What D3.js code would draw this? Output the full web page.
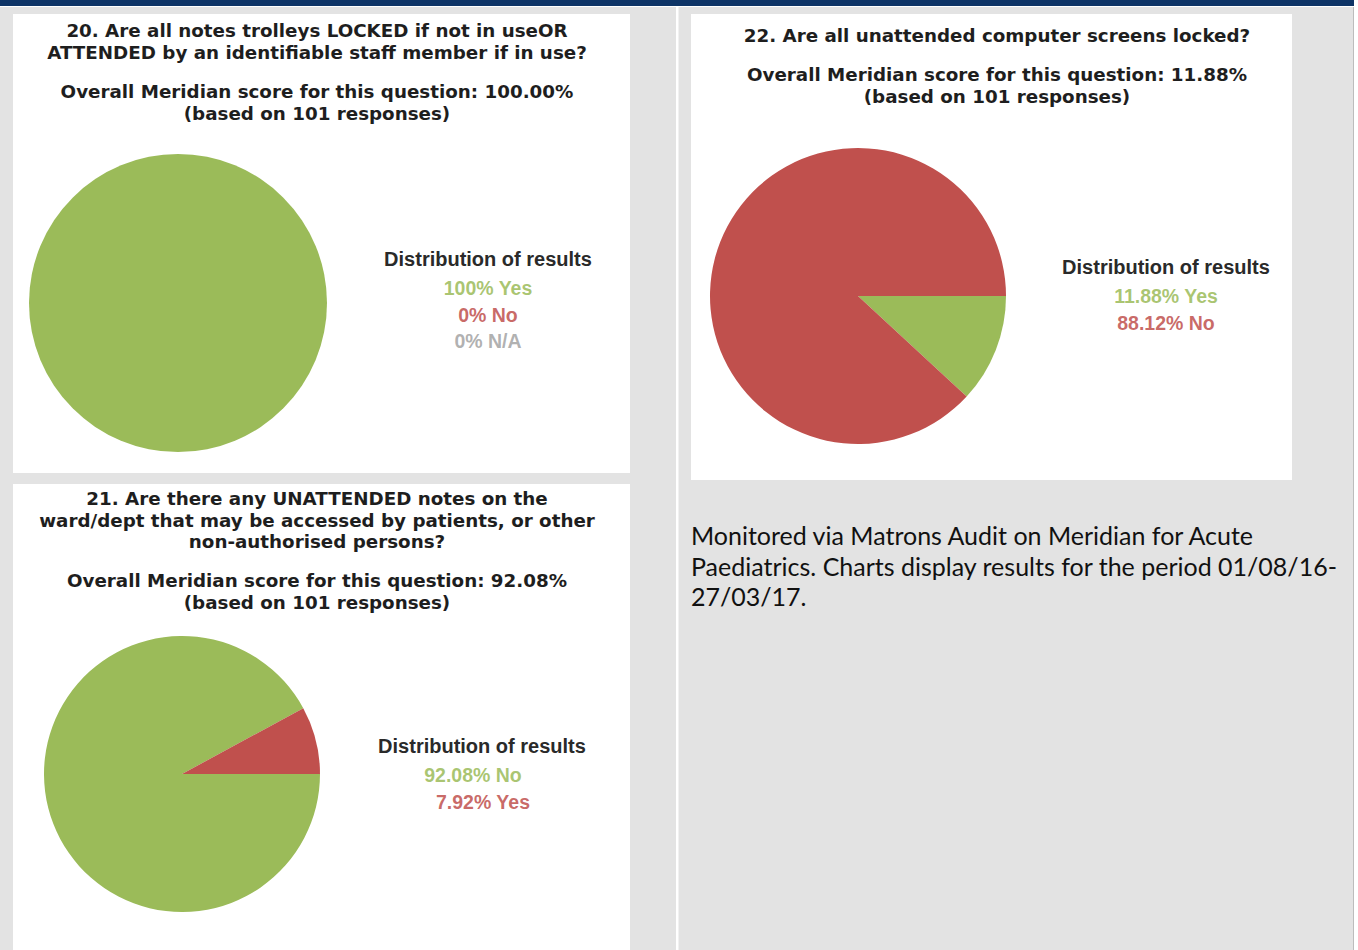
<!DOCTYPE html>
<html>
<head>
<meta charset="utf-8">
<script src="https://cdn.jsdelivr.net/npm/d3@7"></script>
<style>
  html, body { margin: 0; padding: 0; background: #e3e3e3; }
  svg { display: block; }
  .title { font-family: "DejaVu Sans", Verdana, sans-serif; font-weight: bold; fill: #1e1e1e; }
  .legend { font-family: "Liberation Sans", Arial, sans-serif; font-weight: bold; }
  .note { font-family: Lato, "Open Sans", sans-serif; fill: #111; }
</style>
</head>
<body>
<script>
// Question 20: notes trolleys locked / attended
const q20Title = ["20. Are all notes trolleys LOCKED if not in useOR",
                  "ATTENDED by an identifiable staff member if in use?"];
const q20Score = ["Overall Meridian score for this question: 100.00%",
                  "(based on 101 responses)"];
const q20Labels = ["Yes", "No", "N/A"];
const q20Values = [100, 0, 0];

// Question 22: unattended computer screens locked
const q22Title = ["22. Are all unattended computer screens locked?"];
const q22Score = ["Overall Meridian score for this question: 11.88%",
                  "(based on 101 responses)"];
const q22Labels = ["Yes", "No"];
const q22Values = [11.88, 88.12];

// Question 21: unattended notes accessible to others
const q21Title = ["21. Are there any UNATTENDED notes on the",
                  "ward/dept that may be accessed by patients, or other",
                  "non-authorised persons?"];
const q21Score = ["Overall Meridian score for this question: 92.08%",
                  "(based on 101 responses)"];
const q21Labels = ["No", "Yes"];
const q21Values = [92.08, 7.92];

const legendHeading = "Distribution of results";
const noteLines = ["Monitored via Matrons Audit on Meridian for Acute",
                   "Paediatrics. Charts display results for the period 01/08/16-",
                   "27/03/17."];

const W = 1358, H = 950;
const GREEN = "#9bbb59", RED = "#c0504d", GREY = "#a3a3a3";

const svg = d3.select("body").append("svg").attr("width", W).attr("height", H);

// page frame: navy header strip, grey table cells, white cell dividers
svg.append("rect").attr("width", W).attr("height", H).attr("fill", "#e3e3e3");
svg.append("rect").attr("width", 1354).attr("height", 6).attr("fill", "#0d3466");
svg.append("rect").attr("y", 6).attr("width", W).attr("height", 1).attr("fill", "#ffffff");
svg.append("rect").attr("x", 676).attr("y", 7).attr("width", 2.5).attr("height", H).attr("fill", "#ffffff");
svg.append("rect").attr("x", 1353).attr("y", 7).attr("width", 1).attr("height", H).attr("fill", "#bcbcbc");
svg.append("rect").attr("x", 1354).attr("y", 0).attr("width", 4).attr("height", H).attr("fill", "#ffffff");

function panel(cfg) {
  const g = svg.append("g");
  g.append("rect").attr("x", cfg.x).attr("y", cfg.y).attr("width", cfg.w).attr("height", cfg.h)
    .attr("fill", "#ffffff");

  // question heading and score
  const titleSize = 18.3;
  let ty = cfg.y + cfg.titleTop;
  cfg.title.forEach((t, i) => {
    g.append("text").attr("class", "title").attr("x", cfg.tx).attr("y", ty + i * 21.5)
      .attr("text-anchor", "middle").attr("font-size", titleSize).text(t);
  });
  ty += (cfg.title.length - 1) * 21.5 + 39;
  cfg.score.forEach((t, i) => {
    g.append("text").attr("class", "title").attr("x", cfg.tx).attr("y", ty + i * 22)
      .attr("text-anchor", "middle").attr("font-size", titleSize).text(t);
  });

  // pie, first slice starting at 3 o'clock and running clockwise
  const colour = d3.scaleOrdinal().domain(cfg.labels).range(cfg.colours);
  const pie = d3.pie().sort(null).value(d => d.v)
    .startAngle(Math.PI / 2).endAngle(Math.PI / 2 + 2 * Math.PI);
  const arc = d3.arc().innerRadius(0).outerRadius(cfg.r);
  const data = cfg.labels.map((l, i) => ({ l, v: cfg.values[i] }));
  g.append("g").attr("transform", `translate(${cfg.cx},${cfg.cy})`)
    .selectAll("path").data(pie(data).filter(d => d.data.v > 0)).join("path")
    .attr("d", arc).attr("fill", d => colour(d.data.l));

  // legend
  g.append("text").attr("class", "legend").attr("x", cfg.lx).attr("y", cfg.ly + 1)
    .attr("text-anchor", "middle").attr("font-size", 20).attr("fill", "#2a2a2a")
    .text(legendHeading);
  const fmt = v => (Number.isInteger(v) ? v.toString() : v.toFixed(2)) + "%";
  data.forEach((d, i) => {
    g.append("text").attr("class", "legend").attr("x", cfg.lx + (cfg.legendShift ? cfg.legendShift[i] : 0))
      .attr("y", cfg.ly + 30 + i * 26.5)
      .attr("text-anchor", "middle").attr("font-size", 19.5).attr("fill", colour(d.l))
      .attr("fill-opacity", 0.85)
      .text(`${fmt(d.v)} ${d.l}`);
  });
}

panel({ x: 13, y: 14, w: 617, h: 459, tx: 317, titleTop: 23, title: q20Title, score: q20Score,
        labels: q20Labels, values: q20Values, colours: [GREEN, RED, GREY],
        cx: 178, cy: 303, r: 149, lx: 488, ly: 265 });

panel({ x: 691, y: 14, w: 601, h: 466, tx: 997, titleTop: 28, title: q22Title, score: q22Score,
        labels: q22Labels, values: q22Values, colours: [GREEN, RED],
        cx: 858, cy: 296, r: 148, lx: 1166, ly: 273 });

panel({ x: 13, y: 484, w: 617, h: 466, tx: 317, titleTop: 21, title: q21Title, score: q21Score,
        labels: q21Labels, values: q21Values, colours: [GREEN, RED],
        cx: 182, cy: 774, r: 138, lx: 482, ly: 752, legendShift: [-9, 1] });

// explanatory note
svg.append("g").selectAll("text").data(noteLines).join("text")
  .attr("class", "note").attr("x", 691).attr("y", (d, i) => 545 + i * 30.5)
  .attr("font-size", 25).text(d => d);
</script>
</body>
</html>
